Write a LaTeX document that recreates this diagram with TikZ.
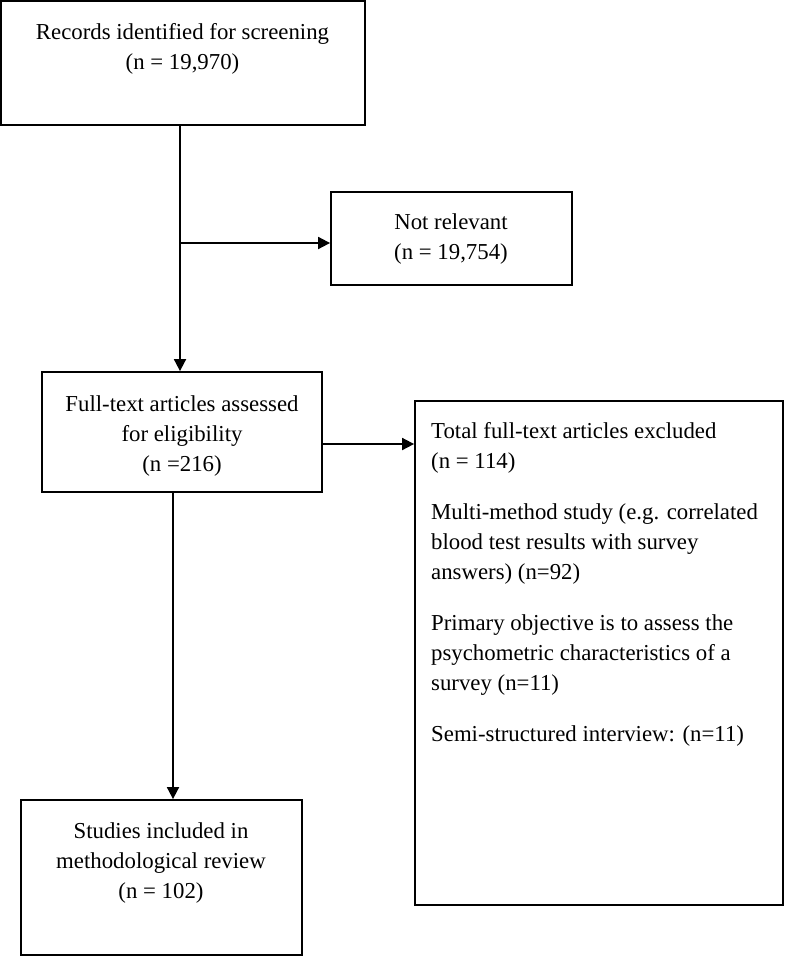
\documentclass[tikz,border=0pt]{standalone}
\usepackage{fontspec}
\setmainfont{Liberation Serif}
\usetikzlibrary{arrows.meta}

\tikzset{
    flowbox/.style={draw, line width=1.8pt, rectangle, inner sep=0pt},
    boxtext/.style={inner sep=0pt, anchor=north, align=center,
        font=\fontsize{22.8}{30}\selectfont},
    listtext/.style={inner sep=0pt, anchor=north west, align=left,
        font=\fontsize{22.8}{30}\selectfont},
    flowarrow/.style={line width=1.8pt, -{Triangle[length=12pt,width=12pt]}}
}

\begin{document}
\begin{tikzpicture}[x=1pt, y=-1pt]

\useasboundingbox (0,0) rectangle (787,956);

% Draws the boxes
\node[flowbox, minimum width=364pt, minimum height=124pt] (records) at (183,63) {};
\node[flowbox, minimum width=241pt, minimum height=93pt] (notrel) at (451.5,238.5) {};
\node[flowbox, minimum width=280pt, minimum height=120pt] (fulltext) at (182,432) {};
\node[flowbox, minimum width=368pt, minimum height=504pt] (excluded) at (599,653) {};
\node[flowbox, minimum width=281pt, minimum height=155pt] (included) at (161.5,877.5) {};

% Texts inside the boxes
\node[boxtext] (recordstxt) at (182.5,23) {Records identified for screening\\(n = 19,970)};
\node[boxtext] (notreltxt) at (451,213) {Not relevant\\(n = 19,754)};
\node[boxtext] (fulltexttxt) at (182,395) {Full-text articles assessed\\for eligibility\\(n =216)};
\node[listtext] (excludedtxt) at (431,422) {Total full-text articles excluded\\(n = 114)\\[21pt]
    Multi-method study (e.g. correlated\\blood test results with survey\\answers) (n=92)\\[21pt]
    Primary objective is to assess the\\psychometric characteristics of a\\survey (n=11)\\[21pt]
    Semi-structured interview: (n=11)};
\node[boxtext] (includedtxt) at (161,822) {Studies included in\\methodological review\\(n = 102)};

% Branch point on the main line
\coordinate (split) at (180,243);

% Draws the arrows
\draw[flowarrow] (split |- records.south) -- (split |- fulltext.north);
\draw[flowarrow] (split) -- (split -| notrel.west);
\draw[flowarrow] ([yshift=-12pt]fulltext.east) -- ([yshift=-12pt]fulltext.east -| excluded.west);
\draw[flowarrow] ([xshift=-9pt]fulltext.south) -- ([xshift=-9pt]fulltext.south |- included.north);

\end{tikzpicture}
\end{document}
